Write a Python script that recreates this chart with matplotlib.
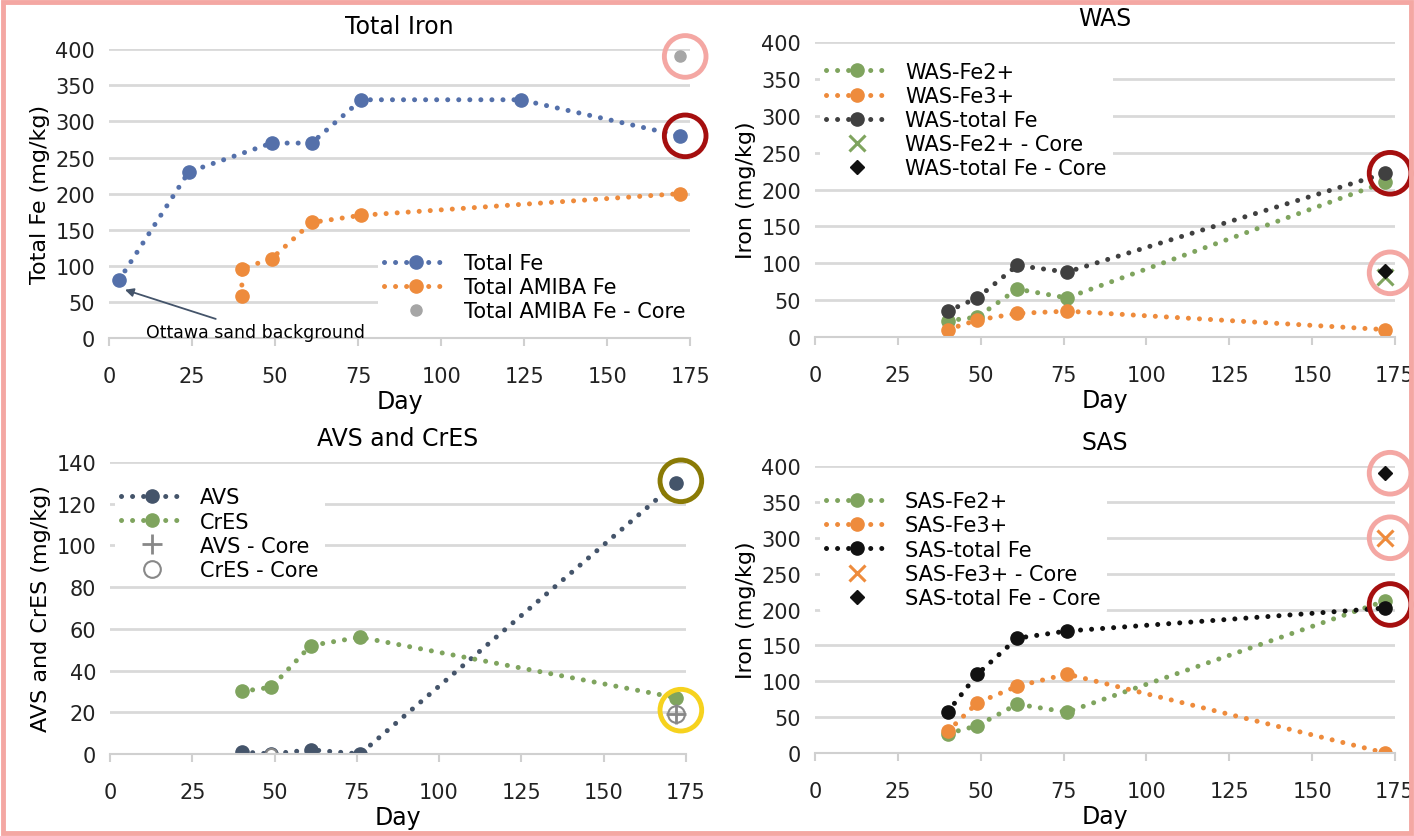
import matplotlib.pyplot as plt
from matplotlib.patches import Rectangle

# --- dados ---
fe_days = [3, 24, 49, 61, 76, 124, 172]
fe_total = [80, 230, 270, 270, 330, 330, 280]
amiba_days = [40, 40, 49, 61, 76, 172]
amiba_fe = [58, 96, 110, 160, 170, 200]
amiba_core_day = [172]
amiba_core = [390]

days = [40, 49, 61, 76, 172]
was_fe2 = [22, 27, 65, 53, 210]
was_fe3 = [10, 23, 32, 35, 10]
was_tot = [35, 53, 97, 88, 222]
was_fe2_core = [82]
was_tot_core = [90]

avs = [1, 0, 2, 0, 130]
cres = [30, 32, 52, 56, 27]
avs_core = [19]
cres_core = [19]

sas_fe2 = [27, 38, 68, 57, 212]
sas_fe3 = [30, 70, 93, 110, 0]
sas_tot = [57, 110, 160, 170, 202]
sas_fe3_core = [300]
sas_tot_core = [390]
core_day = [172]

# aneis de destaque (dia, valor, cor)
rings_fe = [(172, 390, '#f4a7a3'), (172, 280, '#a50f0f')]
rings_was = [(172, 222, '#a50f0f'), (172, 87, '#f4a7a3')]
rings_avs = [(172, 131, '#8a7a05'), (172, 21, '#f6d21e')]
rings_sas = [(172, 390, '#f4a7a3'), (172, 300, '#f4a7a3'), (172, 207, '#a50f0f')]

BLUE = '#5470aa'
ORANGE = '#ee8b3c'
GRAY = '#a6a6a6'
GREEN = '#7fa45e'
DARK = '#404040'
NAVY = '#44546a'
BLACK = '#111111'

plt.rcParams['font.family'] = ['DejaVu Sans']

DOT = dict(linestyle=(0, (0.01, 2.2)), linewidth=3.6, dash_capstyle='round',
           marker='o', markersize=9.5)

fig = plt.figure(figsize=(14.14, 8.37), dpi=100)


def setup(ax, ymax, ystep, title, ylabel):
    ax.set_xlim(0, 175)
    ax.set_ylim(0, ymax)
    ax.set_xticks(range(0, 176, 25))
    ax.set_yticks(range(0, ymax + 1, ystep))
    ax.grid(axis='y', color='#d9d9d9', linewidth=2)
    ax.set_axisbelow(True)
    for s in ['top', 'right', 'left']:
        ax.spines[s].set_visible(False)
    ax.spines['bottom'].set_color('#d0d0d0')
    ax.spines['bottom'].set_linewidth(1.5)
    ax.tick_params(axis='y', length=0, labelsize=15, pad=10, colors='#222222')
    ax.tick_params(axis='x', length=6, color='#d0d0d0', width=1.5,
                   labelsize=15, pad=14, colors='#222222')
    ax.set_title(title, fontsize=17, pad=12)
    ax.set_xlabel('Day', fontsize=17, labelpad=2)
    ax.set_ylabel(ylabel, fontsize=16)


def rings(ax, lst):
    for d, v, c in lst:
        ax.scatter([d + 1.5], [v], s=900, facecolors='none', edgecolors=c,
                   linewidths=3.5, zorder=5, clip_on=False)


LEG = dict(fontsize=15, frameon=True, edgecolor='none', facecolor='white',
           framealpha=1, handlelength=3, labelspacing=0.2, borderpad=0.3)

# Total Iron
ax1 = fig.add_axes([0.0771, 0.595, 0.411, 0.345])
ax1.plot(fe_days, fe_total, color=BLUE, label='Total Fe', **DOT)
ax1.plot(amiba_days, amiba_fe, color=ORANGE, label='Total AMIBA Fe', **DOT)
ax1.plot(amiba_core_day, amiba_core, 'o', color=GRAY, markersize=8,
         linestyle='none', label='Total AMIBA Fe - Core')
setup(ax1, 400, 50, 'Total Iron', 'Total Fe (mg/kg)')
ax1.annotate('Ottawa sand background', xy=(fe_days[0] + 1, fe_total[0] - 12),
             xytext=(11, 2), fontsize=12.5,
             arrowprops=dict(arrowstyle='-|>', color=NAVY, lw=1.3))
ax1.legend(loc='lower right', bbox_to_anchor=(1.02, 0.0), **LEG)
rings(ax1, rings_fe)

# WAS
ax2 = fig.add_axes([0.5764, 0.5962, 0.4102, 0.3524])
ax2.plot(days, was_fe2, color=GREEN, label='WAS-Fe2+', **DOT)
ax2.plot(days, was_fe3, color=ORANGE, label='WAS-Fe3+', **DOT)
ax2.plot(days, was_tot, color=DARK, label='WAS-total Fe', **DOT)
ax2.plot(core_day, was_fe2_core, 'x', color=GREEN, markersize=11, mew=2.2,
         linestyle='none', label='WAS-Fe2+ - Core')
ax2.plot(core_day, was_tot_core, 'D', color=BLACK, markersize=7,
         linestyle='none', label='WAS-total Fe - Core')
setup(ax2, 400, 50, 'WAS', 'Iron (mg/kg)')
ax2.legend(loc='upper left', bbox_to_anchor=(-0.01, 0.99), **LEG)
rings(ax2, rings_was)

# AVS and CrES
ax3 = fig.add_axes([0.0778, 0.098, 0.4072, 0.3488])
ax3.plot(days, avs, color=NAVY, label='AVS', **DOT)
ax3.plot(days, cres, color=GREEN, label='CrES', **DOT)
ax3.plot(days[1:2], avs[1:2], 'o', mfc='white', mec='#888888', markersize=8,
         mew=1.5, linestyle='none')
ax3.plot(core_day, avs_core, '+', color='#888888', markersize=14, mew=2,
         linestyle='none', label='AVS - Core')
ax3.plot(core_day, cres_core, 'o', mfc='none', mec='#888888', markersize=12,
         mew=1.5, linestyle='none', label='CrES - Core')
setup(ax3, 140, 20, 'AVS and CrES', 'AVS and CrES (mg/kg)')
ax3.legend(loc='upper left', bbox_to_anchor=(-0.01, 0.97), **LEG)
rings(ax3, rings_avs)

# SAS
ax4 = fig.add_axes([0.5764, 0.0992, 0.4102, 0.3428])
ax4.plot(days, sas_fe2, color=GREEN, label='SAS-Fe2+', **DOT)
ax4.plot(days, sas_fe3, color=ORANGE, label='SAS-Fe3+', **DOT)
ax4.plot(days, sas_tot, color=BLACK, label='SAS-total Fe', **DOT)
ax4.plot(core_day, sas_fe3_core, 'x', color=ORANGE, markersize=12, mew=2.2,
         linestyle='none', label='SAS-Fe3+ - Core')
ax4.plot(core_day, sas_tot_core, 'D', color=BLACK, markersize=7,
         linestyle='none', label='SAS-total Fe - Core')
setup(ax4, 400, 50, 'SAS', 'Iron (mg/kg)')
ax4.legend(loc='upper left', bbox_to_anchor=(-0.01, 0.97), **LEG)
rings(ax4, rings_sas)

# moldura rosa
fig.patches.append(Rectangle((0.002, 0.003), 0.996, 0.994, transform=fig.transFigure,
                             fill=False, edgecolor='#f4a7a3', linewidth=3.5))

fig.savefig('out.png', dpi=100)
